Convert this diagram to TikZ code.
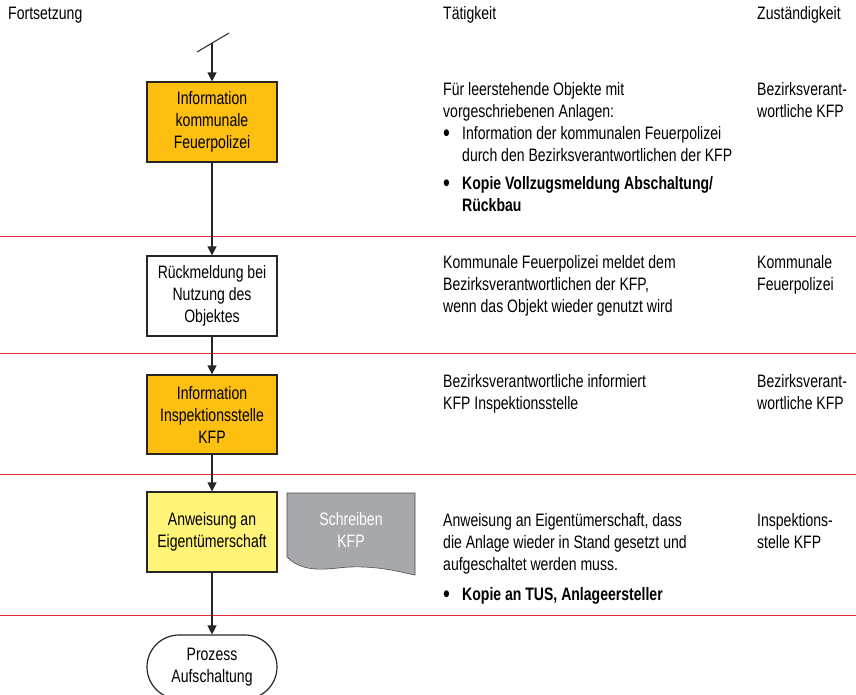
\documentclass[tikz,border=0pt]{standalone}
\usepackage{fontspec}
\setmainfont{Liberation Sans}[FakeStretch=0.78]
\usetikzlibrary{arrows.meta}
\definecolor{kfporange}{RGB}{253,192,16}
\definecolor{kfpyellow}{RGB}{255,243,120}
\definecolor{kfpgray}{RGB}{166,168,171}
\definecolor{kfpred}{RGB}{232,40,52}
\newcommand{\bul}{\makebox[19pt][l]{\raisebox{-2.5pt}{\fontsize{25}{22}\selectfont\textbullet}}}
\newcommand{\ind}{\hspace*{19pt}}
\begin{document}
\begin{tikzpicture}[x=1pt,y=-1pt,
    every node/.style={font=\fontsize{18}{22}\selectfont,text=black},
    procbox/.style={draw=black!85,line width=1.2pt,minimum width=130pt,minimum height=80pt,inner sep=0pt,align=center},
    infotext/.style={anchor=north west,inner sep=0pt,align=left},
    flow/.style={line width=1.3pt,draw=black!85,-{Triangle[width=9pt,length=9pt]}},
    sepline/.style={kfpred,line width=0.8pt}]
\useasboundingbox (0,0) rectangle (856,694);
% headings
\node[anchor=west,inner sep=0pt] (hfort) at (8,15) {Fortsetzung};
\node[anchor=west,inner sep=0pt] (htaet) at (443,15) {Tätigkeit};
\node[anchor=west,inner sep=0pt] (hzust) at (757,15) {Zuständigkeit};
% separators
\foreach \y in {236,353,474,615}
    \draw[sepline] (0,\y) -- (856,\y);
% flow boxes
\coordinate (start) at (212,42.5);
\draw[line width=1pt,black!85] (197,52) -- (229,33);
\path (212,122) node[procbox,fill=kfporange](info){Information\\kommunale\\Feuerpolizei};
\path (212,296) node[procbox,fill=white](rueck){Rückmeldung bei\\Nutzung des\\Objektes};
\path (212,414.5) node[procbox,fill=kfporange,minimum height=79pt](insp){Information\\Inspektionsstelle\\KFP};
\path (212,532) node[procbox,fill=kfpyellow](anw){Anweisung an\\Eigentümerschaft};
\path (212,667) node[procbox,fill=white,minimum height=64pt,rounded corners=32pt](proz){Prozess\\Aufschaltung};
% document
\fill[kfpgray,draw=black!70,line width=0.6pt] (287,557) -- (287,493) -- (415,493) -- (415,575)
    .. controls (400,572) and (380,566) .. (350,567)
    .. controls (330,568) and (305,575) .. (287,557);
\node[text=white,align=center,inner sep=0pt] (brief) at (351,530) {Schreiben\\KFP};
% connectors
\draw[flow] (start) -- (info);
\draw[flow] (info) -- (rueck);
\draw[flow] (rueck) -- (insp);
\draw[flow] (insp) -- (anw);
\draw[flow] (anw) -- (proz);
% activities
\node[infotext] (t1) at (443,82) {Für leerstehende Objekte mit\\
    vorgeschriebenen Anlagen:\\
    \bul Information der kommunalen Feuerpolizei\\
    \ind durch den Bezirksverantwortlichen der KFP\\[6pt]
    \bul\textbf{Kopie Vollzugsmeldung Abschaltung/}\\
    \ind\textbf{Rückbau}};
\node[infotext] (t2) at (443,255) {Kommunale Feuerpolizei meldet dem\\
    Bezirksverantwortlichen der KFP,\\
    wenn das Objekt wieder genutzt wird};
\node[infotext] (t3) at (443,374) {Bezirksverantwortliche informiert\\
    KFP Inspektionsstelle};
\node[infotext] (t4) at (443,513) {Anweisung an Eigentümerschaft, dass\\
    die Anlage wieder in Stand gesetzt und\\
    aufgeschaltet werden muss.\\[8pt]
    \bul\textbf{Kopie an TUS, Anlageersteller}};
% responsibility
\node[infotext] (z1) at (757,82) {Bezirksverant-\\wortliche KFP};
\node[infotext] (z2) at (757,255) {Kommunale\\Feuerpolizei};
\node[infotext] (z3) at (757,374) {Bezirksverant-\\wortliche KFP};
\node[infotext] (z4) at (757,513) {Inspektions-\\stelle KFP};
\end{tikzpicture}
\end{document}
